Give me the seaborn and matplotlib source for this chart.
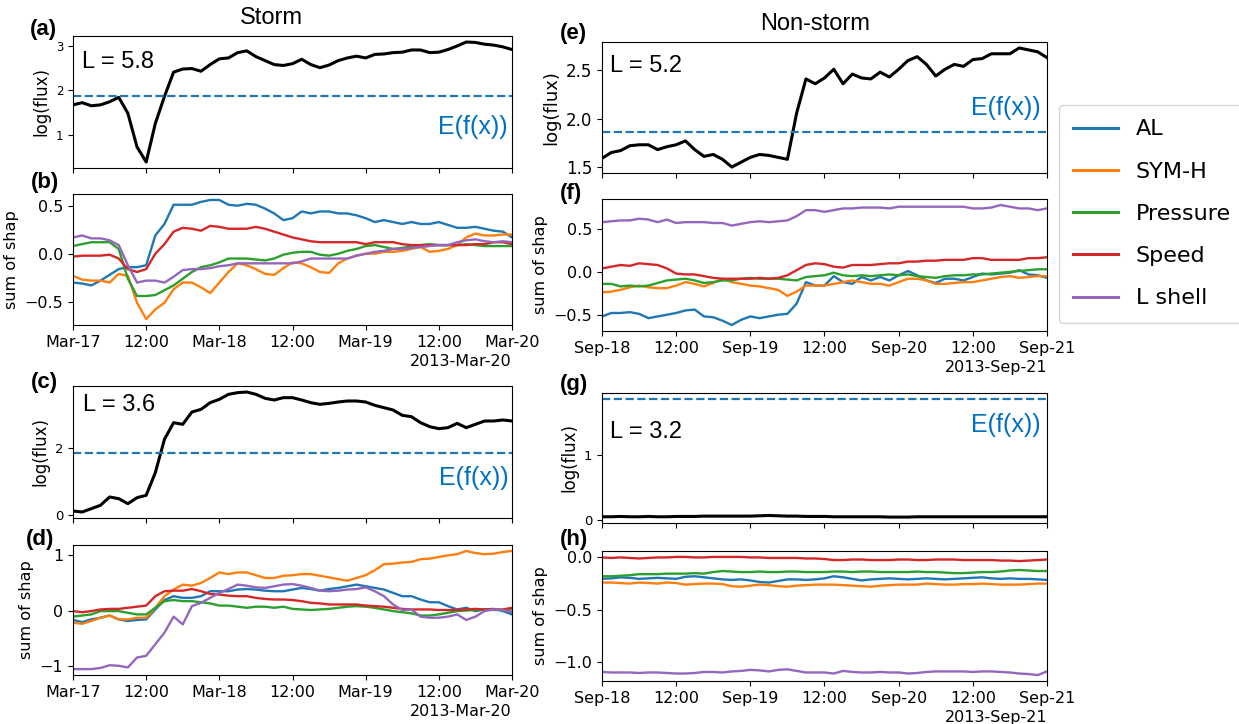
import numpy as np
import pandas as pd
import matplotlib
matplotlib.use("Agg")
import matplotlib.pyplot as plt
import matplotlib.dates as mdates
from matplotlib.ticker import NullFormatter
import seaborn as sns

# ---------------------------------------------------------------------------
# Data: 1.5-hour samples over three days for each event
# ---------------------------------------------------------------------------
FEATURES = ["AL", "SYM-H", "Pressure", "Speed", "L shell"]
E_FX = 1.86  # expected value of the model output

storm_start = "2013-03-17 00:00"
quiet_start = "2013-09-18 00:00"

# Storm, L = 5.8
storm_flux_l58 = [1.67, 1.72, 1.65, 1.67, 1.74, 1.84, 1.48, 0.72, 0.38, 1.25,
                  1.86, 2.41, 2.48, 2.49, 2.43, 2.58, 2.71, 2.73, 2.85, 2.89,
                  2.76, 2.67, 2.58, 2.56, 2.60, 2.70, 2.58, 2.51, 2.57, 2.67,
                  2.73, 2.77, 2.73, 2.81, 2.82, 2.85, 2.86, 2.91, 2.91, 2.85,
                  2.86, 2.92, 3.00, 3.09, 3.08, 3.04, 3.02, 2.98, 2.92]
storm_l58_al = [-0.30, -0.31, -0.33, -0.28, -0.22, -0.16, -0.14, -0.14, -0.12, 0.19,
                0.31, 0.51, 0.51, 0.51, 0.54, 0.56, 0.56, 0.51, 0.50, 0.52,
                0.51, 0.47, 0.42, 0.35, 0.37, 0.44, 0.42, 0.44, 0.44, 0.42,
                0.42, 0.40, 0.37, 0.33, 0.35, 0.33, 0.31, 0.33, 0.31, 0.31,
                0.33, 0.30, 0.27, 0.27, 0.28, 0.26, 0.24, 0.23, 0.17]
storm_l58_symh = [-0.23, -0.27, -0.28, -0.28, -0.30, -0.21, -0.23, -0.51, -0.68, -0.58,
                  -0.51, -0.37, -0.30, -0.30, -0.35, -0.41, -0.30, -0.19, -0.10, -0.12,
                  -0.16, -0.21, -0.22, -0.15, -0.09, -0.10, -0.14, -0.19, -0.20, -0.10,
                  -0.05, -0.02, 0.00, 0.00, 0.02, 0.02, 0.03, 0.05, 0.07, 0.02,
                  0.03, 0.05, 0.09, 0.17, 0.21, 0.19, 0.19, 0.20, 0.20]
storm_l58_pressure = [0.08, 0.10, 0.12, 0.12, 0.12, 0.05, -0.26, -0.44, -0.44, -0.43,
                      -0.38, -0.33, -0.26, -0.19, -0.14, -0.12, -0.09, -0.05, -0.05, -0.05,
                      -0.06, -0.07, -0.05, -0.01, 0.01, 0.02, 0.02, -0.01, -0.02, 0.00,
                      0.03, 0.05, 0.08, 0.09, 0.07, 0.05, 0.06, 0.08, 0.09, 0.10,
                      0.09, 0.09, 0.09, 0.10, 0.09, 0.08, 0.08, 0.08, 0.08]
storm_l58_speed = [-0.03, -0.02, -0.02, -0.02, -0.01, -0.05, -0.16, -0.19, -0.16, 0.00,
                   0.10, 0.23, 0.27, 0.26, 0.24, 0.29, 0.28, 0.26, 0.26, 0.26,
                   0.28, 0.26, 0.23, 0.20, 0.17, 0.15, 0.13, 0.12, 0.12, 0.12,
                   0.12, 0.12, 0.10, 0.12, 0.12, 0.12, 0.10, 0.09, 0.09, 0.09,
                   0.09, 0.09, 0.09, 0.09, 0.10, 0.10, 0.12, 0.12, 0.10]
storm_l58_lshell = [0.17, 0.19, 0.16, 0.16, 0.14, 0.09, -0.12, -0.30, -0.28, -0.28,
                    -0.30, -0.24, -0.17, -0.16, -0.16, -0.15, -0.13, -0.12, -0.10, -0.10,
                    -0.10, -0.10, -0.10, -0.10, -0.10, -0.08, -0.05, -0.05, -0.05, -0.05,
                    -0.05, -0.02, 0.00, 0.02, 0.03, 0.05, 0.05, 0.06, 0.07, 0.08,
                    0.09, 0.09, 0.12, 0.14, 0.15, 0.13, 0.12, 0.13, 0.12]

# Storm, L = 3.6
storm_flux_l36 = [0.12, 0.09, 0.19, 0.29, 0.54, 0.49, 0.34, 0.52, 0.59, 1.27,
                  2.27, 2.77, 2.72, 3.09, 3.17, 3.37, 3.47, 3.62, 3.67, 3.69,
                  3.62, 3.50, 3.45, 3.52, 3.52, 3.45, 3.37, 3.32, 3.35, 3.39,
                  3.42, 3.42, 3.39, 3.29, 3.22, 3.15, 2.99, 2.95, 2.77, 2.65,
                  2.59, 2.62, 2.75, 2.62, 2.72, 2.82, 2.82, 2.85, 2.82]
storm_l36_al = [-0.17, -0.21, -0.16, -0.13, -0.09, -0.16, -0.19, -0.17, -0.16, 0.02,
                0.19, 0.26, 0.23, 0.23, 0.26, 0.35, 0.35, 0.35, 0.38, 0.39,
                0.38, 0.36, 0.35, 0.35, 0.38, 0.41, 0.39, 0.36, 0.39, 0.41,
                0.44, 0.47, 0.44, 0.41, 0.38, 0.32, 0.26, 0.26, 0.20, 0.15,
                0.15, 0.08, 0.02, 0.05, -0.01, 0.02, 0.03, -0.01, -0.07]
storm_l36_symh = [-0.22, -0.24, -0.19, -0.13, -0.09, -0.16, -0.16, -0.13, -0.13, 0.05,
                  0.26, 0.38, 0.47, 0.45, 0.50, 0.59, 0.69, 0.66, 0.69, 0.69,
                  0.64, 0.59, 0.59, 0.63, 0.64, 0.66, 0.66, 0.63, 0.60, 0.57,
                  0.54, 0.59, 0.64, 0.73, 0.84, 0.85, 0.87, 0.88, 0.93, 0.94,
                  0.97, 1.00, 1.02, 1.08, 1.04, 1.02, 1.03, 1.06, 1.08]
storm_l36_pressure = [-0.11, -0.09, -0.07, -0.01, -0.01, -0.01, -0.04, -0.07, -0.07, 0.05,
                      0.17, 0.19, 0.17, 0.17, 0.15, 0.13, 0.09, 0.09, 0.07, 0.05,
                      0.07, 0.07, 0.05, 0.07, 0.03, 0.02, 0.01, 0.02, 0.03, 0.05,
                      0.07, 0.08, 0.07, 0.05, 0.02, -0.01, -0.03, -0.05, -0.09, -0.09,
                      -0.07, -0.04, -0.01, 0.00, 0.01, 0.02, 0.01, 0.01, 0.02]
storm_l36_speed = [-0.01, -0.03, -0.01, 0.02, 0.03, 0.03, 0.05, 0.07, 0.09, 0.26,
                   0.35, 0.36, 0.36, 0.39, 0.35, 0.30, 0.29, 0.27, 0.26, 0.26,
                   0.23, 0.21, 0.20, 0.20, 0.19, 0.17, 0.14, 0.13, 0.11, 0.11,
                   0.11, 0.11, 0.09, 0.08, 0.07, 0.05, 0.03, 0.02, 0.02, 0.02,
                   0.01, 0.01, 0.01, 0.02, 0.03, 0.02, 0.02, 0.02, 0.05]
storm_l36_lshell = [-1.06, -1.06, -1.06, -1.04, -0.99, -1.00, -1.03, -0.85, -0.82, -0.61,
                    -0.40, -0.11, -0.25, 0.08, 0.14, 0.23, 0.32, 0.39, 0.47, 0.45,
                    0.42, 0.41, 0.44, 0.47, 0.48, 0.45, 0.41, 0.36, 0.35, 0.36,
                    0.38, 0.39, 0.42, 0.35, 0.26, 0.11, 0.01, 0.02, -0.11, -0.13,
                    -0.13, -0.11, -0.07, -0.17, -0.11, -0.01, 0.02, 0.01, -0.03]

# Non-storm, L = 5.2
quiet_flux_l52 = [1.59, 1.65, 1.67, 1.72, 1.73, 1.73, 1.68, 1.71, 1.73, 1.77,
                  1.68, 1.61, 1.63, 1.58, 1.50, 1.55, 1.60, 1.63, 1.62, 1.60,
                  1.58, 2.06, 2.41, 2.36, 2.42, 2.51, 2.36, 2.46, 2.42, 2.41,
                  2.48, 2.43, 2.51, 2.60, 2.64, 2.56, 2.44, 2.51, 2.56, 2.54,
                  2.61, 2.62, 2.67, 2.67, 2.67, 2.73, 2.71, 2.69, 2.63]
quiet_l52_al = [-0.52, -0.48, -0.48, -0.47, -0.49, -0.54, -0.52, -0.50, -0.48, -0.45,
                -0.44, -0.52, -0.53, -0.57, -0.62, -0.56, -0.52, -0.54, -0.52, -0.50,
                -0.49, -0.37, -0.12, -0.16, -0.16, -0.05, -0.12, -0.14, -0.06, -0.10,
                -0.06, -0.10, -0.04, 0.01, -0.04, -0.10, -0.13, -0.08, -0.08, -0.10,
                -0.06, -0.02, -0.03, -0.02, -0.01, 0.02, -0.03, -0.04, -0.07]
quiet_l52_symh = [-0.24, -0.23, -0.21, -0.18, -0.16, -0.18, -0.19, -0.19, -0.16, -0.12,
                  -0.14, -0.17, -0.13, -0.08, -0.12, -0.14, -0.16, -0.17, -0.19, -0.21,
                  -0.28, -0.23, -0.16, -0.16, -0.16, -0.14, -0.12, -0.10, -0.12, -0.14,
                  -0.14, -0.16, -0.12, -0.08, -0.08, -0.10, -0.14, -0.14, -0.13, -0.12,
                  -0.12, -0.10, -0.08, -0.06, -0.05, -0.07, -0.06, -0.05, -0.05]
quiet_l52_pressure = [-0.14, -0.14, -0.17, -0.16, -0.17, -0.16, -0.13, -0.10, -0.09, -0.08,
                      -0.10, -0.13, -0.12, -0.10, -0.10, -0.08, -0.07, -0.08, -0.08, -0.08,
                      -0.09, -0.10, -0.06, -0.05, -0.04, -0.01, -0.04, -0.05, -0.04, -0.05,
                      -0.04, -0.03, -0.04, -0.03, -0.05, -0.06, -0.07, -0.05, -0.04, -0.04,
                      -0.03, -0.03, -0.02, -0.01, 0.00, 0.01, 0.02, 0.03, 0.03]
quiet_l52_speed = [0.04, 0.06, 0.08, 0.07, 0.10, 0.09, 0.08, 0.04, -0.02, -0.03,
                   -0.03, -0.05, -0.07, -0.08, -0.08, -0.08, -0.08, -0.07, -0.08, -0.07,
                   -0.04, 0.02, 0.08, 0.10, 0.09, 0.06, 0.05, 0.08, 0.08, 0.08,
                   0.09, 0.10, 0.10, 0.12, 0.12, 0.13, 0.13, 0.14, 0.14, 0.14,
                   0.16, 0.16, 0.14, 0.14, 0.14, 0.14, 0.16, 0.16, 0.17]
quiet_l52_lshell = [0.58, 0.59, 0.60, 0.60, 0.62, 0.61, 0.58, 0.61, 0.57, 0.58,
                    0.58, 0.58, 0.57, 0.57, 0.54, 0.56, 0.58, 0.59, 0.58, 0.59,
                    0.60, 0.65, 0.72, 0.72, 0.70, 0.72, 0.74, 0.74, 0.75, 0.75,
                    0.75, 0.74, 0.76, 0.76, 0.76, 0.76, 0.76, 0.76, 0.76, 0.76,
                    0.74, 0.74, 0.75, 0.78, 0.76, 0.74, 0.74, 0.72, 0.74]

# Non-storm, L = 3.2
quiet_flux_l32 = [0.050, 0.050, 0.055, 0.050, 0.050, 0.055, 0.050, 0.050, 0.055, 0.055,
                  0.055, 0.060, 0.060, 0.060, 0.060, 0.060, 0.060, 0.065, 0.070, 0.065,
                  0.060, 0.060, 0.055, 0.055, 0.055, 0.050, 0.050, 0.050, 0.050, 0.050,
                  0.050, 0.045, 0.045, 0.045, 0.050, 0.050, 0.050, 0.050, 0.050, 0.050,
                  0.050, 0.050, 0.050, 0.050, 0.050, 0.050, 0.050, 0.050, 0.050]
quiet_l32_al = [-0.205, -0.200, -0.190, -0.195, -0.205, -0.200, -0.195, -0.200, -0.205, -0.185,
                -0.180, -0.190, -0.200, -0.210, -0.215, -0.210, -0.220, -0.235, -0.240, -0.225,
                -0.210, -0.210, -0.215, -0.210, -0.200, -0.180, -0.190, -0.205, -0.220, -0.210,
                -0.205, -0.200, -0.205, -0.210, -0.205, -0.200, -0.205, -0.210, -0.205, -0.200,
                -0.195, -0.190, -0.200, -0.205, -0.200, -0.205, -0.205, -0.210, -0.215]
quiet_l32_symh = [-0.240, -0.240, -0.245, -0.250, -0.240, -0.245, -0.250, -0.240, -0.245, -0.260,
                  -0.255, -0.250, -0.250, -0.255, -0.275, -0.280, -0.270, -0.260, -0.265, -0.275,
                  -0.280, -0.270, -0.265, -0.260, -0.260, -0.260, -0.265, -0.270, -0.275, -0.280,
                  -0.270, -0.265, -0.260, -0.260, -0.260, -0.250, -0.255, -0.260, -0.260, -0.255,
                  -0.255, -0.250, -0.255, -0.260, -0.260, -0.260, -0.255, -0.250, -0.250]
quiet_l32_pressure = [-0.180, -0.180, -0.175, -0.170, -0.160, -0.160, -0.160, -0.155, -0.155, -0.155,
                      -0.150, -0.155, -0.140, -0.130, -0.135, -0.140, -0.140, -0.135, -0.140, -0.140,
                      -0.135, -0.135, -0.140, -0.140, -0.140, -0.135, -0.135, -0.140, -0.135, -0.135,
                      -0.140, -0.140, -0.140, -0.140, -0.135, -0.140, -0.140, -0.145, -0.150, -0.150,
                      -0.145, -0.140, -0.140, -0.135, -0.125, -0.120, -0.125, -0.130, -0.130]
quiet_l32_speed = [0.000, -0.005, 0.000, -0.005, -0.010, -0.005, 0.000, 0.000, 0.005, 0.005,
                   0.000, 0.000, 0.005, 0.005, 0.005, 0.005, 0.000, 0.000, -0.005, -0.005,
                   -0.005, -0.005, -0.010, -0.010, -0.015, -0.025, -0.025, -0.020, -0.020, -0.025,
                   -0.025, -0.025, -0.020, -0.020, -0.025, -0.025, -0.020, -0.020, -0.020, -0.025,
                   -0.025, -0.025, -0.025, -0.030, -0.030, -0.035, -0.030, -0.025, -0.020]
quiet_l32_lshell = [-1.095, -1.100, -1.100, -1.100, -1.105, -1.100, -1.100, -1.105, -1.110, -1.110,
                    -1.105, -1.095, -1.095, -1.100, -1.090, -1.085, -1.075, -1.080, -1.090, -1.075,
                    -1.070, -1.085, -1.100, -1.100, -1.100, -1.110, -1.085, -1.095, -1.100, -1.100,
                    -1.095, -1.100, -1.100, -1.110, -1.105, -1.095, -1.090, -1.090, -1.090, -1.090,
                    -1.095, -1.090, -1.090, -1.095, -1.100, -1.110, -1.115, -1.125, -1.090]

# ---------------------------------------------------------------------------
# Figure layout (pixel boxes on a 1239 x 724 canvas)
# ---------------------------------------------------------------------------
W, H = 1239, 724
fig = plt.figure(figsize=(W / 100, H / 100), dpi=100)

ANNOT_FONT = ["Liberation Sans", "DejaVu Sans"]


def box(left, top, right, bottom):
    return [left / W, 1 - bottom / H, (right - left) / W, (bottom - top) / H]


def ftext(px, py, s, **kw):
    fig.text(px / W, 1 - py / H, s, **kw)


palette = sns.color_palette("tab10")[:5]
LINE_COLOR = "#1f77b4"
LABEL_COLOR = "#0070c0"


def times_from(start, n):
    return pd.date_range(start, periods=n, freq="90min")


def style_time_axis(ax, start, show_labels):
    t = times_from(start, 49)
    ax.set_xlim(t[0], t[-1])
    locator = mdates.HourLocator(byhour=[0, 12])
    ax.xaxis.set_major_locator(locator)
    if show_labels:
        ax.xaxis.set_major_formatter(mdates.ConciseDateFormatter(locator))
    else:
        ax.xaxis.set_major_formatter(NullFormatter())
    ax.set_xlabel("")


def flux_panel(ax, start, flux, ytick_size, ylabel_size):
    t = times_from(start, len(flux))
    sns.lineplot(x=t, y=flux, color="black", lw=2.2, ax=ax)
    ax.axhline(E_FX, ls="--", color=LINE_COLOR, lw=1.6)
    ax.set_ylabel("log(flux)", fontsize=ylabel_size)
    ax.tick_params(axis="y", labelsize=ytick_size)
    style_time_axis(ax, start, False)


def shap_panel(ax, start, series, legend=False):
    t = times_from(start, len(series[0]))
    df = pd.concat(
        [pd.DataFrame({"time": t, "value": vals, "feature": name})
         for name, vals in zip(FEATURES, series)],
        ignore_index=True,
    )
    sns.lineplot(data=df, x="time", y="value", hue="feature", hue_order=FEATURES,
                 palette=palette, lw=1.7, ax=ax, legend=legend)
    ax.set_ylabel("sum of shap", fontsize=11.6)
    ax.tick_params(axis="both", labelsize=11.5)
    style_time_axis(ax, start, True)
    ax.xaxis.get_offset_text().set_fontsize(11.5)


ax_a = fig.add_axes(box(73, 36, 512, 168))
ax_b = fig.add_axes(box(73, 194, 512, 325))
ax_c = fig.add_axes(box(73, 386, 512, 518))
ax_d = fig.add_axes(box(73, 545, 512, 675))
ax_e = fig.add_axes(box(602, 42, 1047, 173))
ax_f = fig.add_axes(box(602, 199, 1047, 331))
ax_g = fig.add_axes(box(602, 393, 1047, 523))
ax_h = fig.add_axes(box(602, 551, 1047, 681))

flux_panel(ax_a, storm_start, storm_flux_l58, 8.5, 12)
ax_a.set_yticks([1, 2, 3])
shap_panel(ax_b, storm_start,
           [storm_l58_al, storm_l58_symh, storm_l58_pressure, storm_l58_speed, storm_l58_lshell],
           legend=True)
flux_panel(ax_c, storm_start, storm_flux_l36, 9.5, 12)
ax_c.set_yticks([0, 2])
shap_panel(ax_d, storm_start,
           [storm_l36_al, storm_l36_symh, storm_l36_pressure, storm_l36_speed, storm_l36_lshell])
flux_panel(ax_e, quiet_start, quiet_flux_l52, 12, 13)
ax_e.set_yticks([1.5, 2.0, 2.5])
shap_panel(ax_f, quiet_start,
           [quiet_l52_al, quiet_l52_symh, quiet_l52_pressure, quiet_l52_speed, quiet_l52_lshell])
flux_panel(ax_g, quiet_start, quiet_flux_l32, 9.5, 12)
ax_g.set_yticks([0, 1])
shap_panel(ax_h, quiet_start,
           [quiet_l32_al, quiet_l32_symh, quiet_l32_pressure, quiet_l32_speed, quiet_l32_lshell])

# Shared legend on the right
handles, labels = ax_b.get_legend_handles_labels()
ax_b.get_legend().remove()
for h in handles:
    h.set_linewidth(2.2)
fig.legend(handles, labels, loc="upper left", bbox_to_anchor=(1059 / W, 1 - 105 / H),
           borderaxespad=0, fontsize=16, labelspacing=1.0, borderpad=0.65,
           handlelength=2.0)

# Column titles
ftext(271, 18, "Storm", fontsize=17, family=ANNOT_FONT, ha="center", va="center")
ftext(815, 24, "Non-storm", fontsize=17, family=ANNOT_FONT, ha="center", va="center")

# Panel letters
for (px, py), letter in zip([(43, 30), (45, 182), (44, 382), (40, 539),
                             (573, 33), (571, 193), (574, 385), (574, 540)],
                            "abcdefgh"):
    ftext(px, py, f"({letter})", fontsize=16, fontweight="bold", family=ANNOT_FONT,
          ha="center", va="center")

# L-shell annotations
for px, py, s in [(82, 62, "L = 5.8"), (83, 405, "L = 3.6"),
                  (610, 66, "L = 5.2"), (610, 432, "L = 3.2")]:
    ftext(px, py, s, fontsize=17, family=ANNOT_FONT, ha="left", va="center")

# Expected-value labels
for px, py in [(508, 127), (509, 478), (1041, 108), (1041, 425)]:
    ftext(px, py, "E(f(x))", fontsize=18, family=ANNOT_FONT, color=LABEL_COLOR,
          ha="right", va="center")

fig.savefig("out.png", dpi=100)
